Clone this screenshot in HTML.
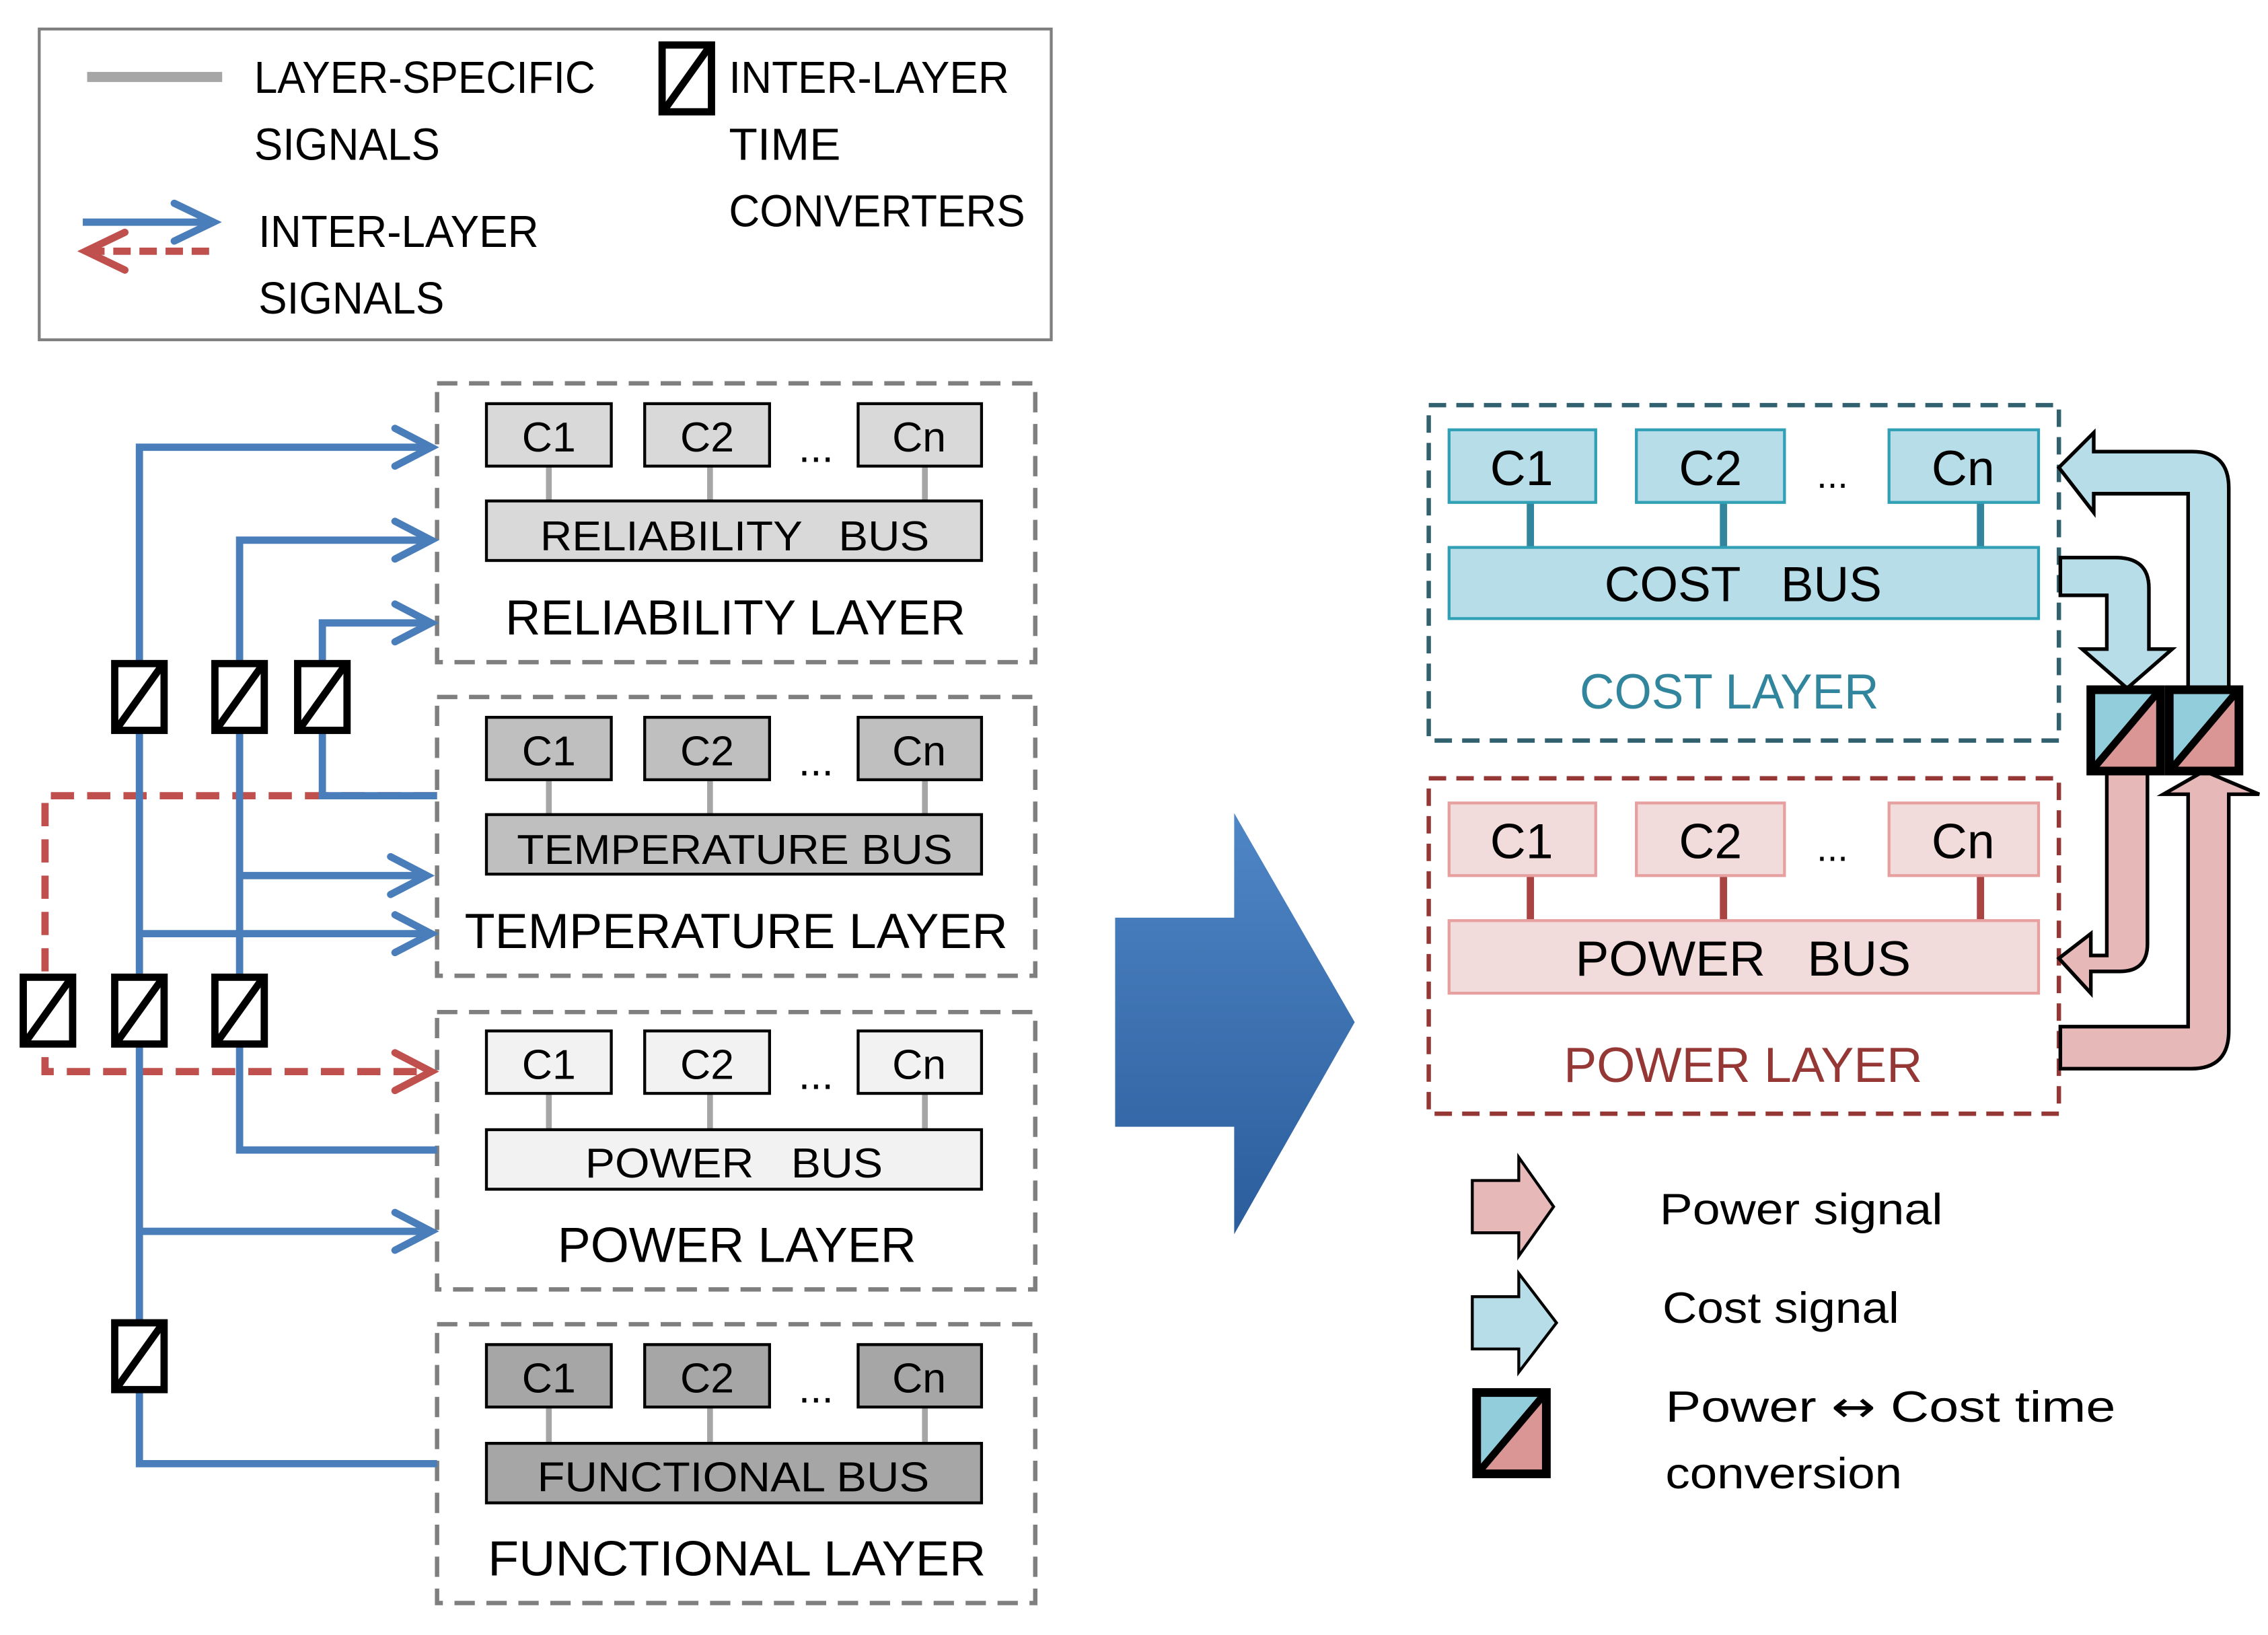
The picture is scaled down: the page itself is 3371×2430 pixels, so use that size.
<!DOCTYPE html>
<html><head><meta charset="utf-8"><style>
html,body{margin:0;padding:0;background:#fff;}
svg{display:block;}
text{font-family:"Liberation Sans",sans-serif;}
</style></head><body>
<svg width="3371" height="2430" viewBox="0 0 1562 1126" xmlns="http://www.w3.org/2000/svg">
<defs>
<linearGradient id="bg" x1="0" y1="0" x2="0" y2="1">
<stop offset="0" stop-color="#4f86c6"/><stop offset="1" stop-color="#2b5d9c"/>
</linearGradient>
<g id="conv"><rect x="0" y="0" width="34" height="46" fill="#fff" stroke="#000" stroke-width="5"/><line x1="2" y1="44" x2="32" y2="2" stroke="#000" stroke-width="5"/></g>
<g id="rconv"><polygon points="0,0 48,0 0,56" fill="#92cddc"/><polygon points="48,0 48,56 0,56" fill="#d99694"/><line x1="2" y1="54" x2="46" y2="2" stroke="#000" stroke-width="5"/><rect x="0" y="0" width="48" height="56" fill="none" stroke="#000" stroke-width="6"/></g>
</defs>

<!-- Legend -->
<rect x="27" y="20" width="697" height="214" fill="#fff" stroke="#7f7f7f" stroke-width="2"/>
<line x1="60" y1="53" x2="153" y2="53" stroke="#a6a6a6" stroke-width="7"/>
<g font-size="31" fill="#000" lengthAdjust="spacingAndGlyphs">
<text x="175" y="64" textLength="235" lengthAdjust="spacingAndGlyphs">LAYER-SPECIFIC</text>
<text x="175" y="110" textLength="128" lengthAdjust="spacingAndGlyphs">SIGNALS</text>
<text x="178" y="170" textLength="193" lengthAdjust="spacingAndGlyphs">INTER-LAYER</text>
<text x="178" y="216" textLength="128" lengthAdjust="spacingAndGlyphs">SIGNALS</text>
<text x="502" y="64" textLength="193" lengthAdjust="spacingAndGlyphs">INTER-LAYER</text>
<text x="502" y="110" textLength="77" lengthAdjust="spacingAndGlyphs">TIME</text>
<text x="502" y="156" textLength="204" lengthAdjust="spacingAndGlyphs">CONVERTERS</text>
</g>
<line x1="57" y1="153" x2="146" y2="153" stroke="#4a7ebb" stroke-width="5"/>
<polyline points="120,140 147,153 120,166" fill="none" stroke="#4a7ebb" stroke-width="5" stroke-linecap="round"/>
<line x1="60" y1="173" x2="150" y2="173" stroke="#c0504d" stroke-width="5" stroke-dasharray="12,6"/>
<polyline points="86,160 59,173 86,186" fill="none" stroke="#c0504d" stroke-width="5" stroke-linecap="round"/>
<use href="#conv" x="456" y="31"/>

<!-- Left layers -->
<g fill="none" stroke="#7f7f7f" stroke-width="3" stroke-dasharray="14,8">
<rect x="301" y="264" width="412" height="192"/>
<rect x="301" y="480" width="412" height="192"/>
<rect x="301" y="697" width="412" height="191"/>
<rect x="301" y="912" width="412" height="192"/>
</g>
<g font-size="29" text-anchor="middle" fill="#000">
<!-- reliability -->
<g stroke="#a6a6a6" stroke-width="4"><line x1="378" y1="321" x2="378" y2="345"/><line x1="489" y1="321" x2="489" y2="345"/><line x1="637" y1="321" x2="637" y2="345"/></g>
<g fill="#d9d9d9" stroke="#000" stroke-width="2"><rect x="335" y="278" width="86" height="43"/><rect x="444" y="278" width="86" height="43"/><rect x="591" y="278" width="85" height="43"/><rect x="335" y="345" width="341" height="41"/></g>
<text x="378" y="311">C1</text><text x="487" y="311">C2</text><text x="633" y="311">Cn</text><text x="562" y="318">...</text>
<text x="372" y="379" text-anchor="start" textLength="268" lengthAdjust="spacingAndGlyphs" xml:space="preserve">RELIABILITY   BUS</text>
<text x="348" y="437" font-size="34" text-anchor="start" textLength="317" lengthAdjust="spacingAndGlyphs">RELIABILITY LAYER</text>
<!-- temperature -->
<g stroke="#a6a6a6" stroke-width="4"><line x1="378" y1="537" x2="378" y2="561"/><line x1="489" y1="537" x2="489" y2="561"/><line x1="637" y1="537" x2="637" y2="561"/></g>
<g fill="#bfbfbf" stroke="#000" stroke-width="2"><rect x="335" y="494" width="86" height="43"/><rect x="444" y="494" width="86" height="43"/><rect x="591" y="494" width="85" height="43"/><rect x="335" y="561" width="341" height="41"/></g>
<text x="378" y="527">C1</text><text x="487" y="527">C2</text><text x="633" y="527">Cn</text><text x="562" y="534">...</text>
<text x="356" y="595" text-anchor="start" textLength="300" lengthAdjust="spacingAndGlyphs">TEMPERATURE BUS</text>
<text x="320" y="653" font-size="34" text-anchor="start" textLength="374" lengthAdjust="spacingAndGlyphs">TEMPERATURE LAYER</text>
<!-- power -->
<g stroke="#a6a6a6" stroke-width="4"><line x1="378" y1="753" x2="378" y2="778"/><line x1="489" y1="753" x2="489" y2="778"/><line x1="637" y1="753" x2="637" y2="778"/></g>
<g fill="#f2f2f2" stroke="#000" stroke-width="2"><rect x="335" y="710" width="86" height="43"/><rect x="444" y="710" width="86" height="43"/><rect x="591" y="710" width="85" height="43"/><rect x="335" y="778" width="341" height="41"/></g>
<text x="378" y="743">C1</text><text x="487" y="743">C2</text><text x="633" y="743">Cn</text><text x="562" y="750">...</text>
<text x="403" y="811" text-anchor="start" textLength="205" lengthAdjust="spacingAndGlyphs" xml:space="preserve">POWER   BUS</text>
<text x="384" y="869" font-size="34" text-anchor="start" textLength="247" lengthAdjust="spacingAndGlyphs">POWER LAYER</text>
<!-- functional -->
<g stroke="#a6a6a6" stroke-width="4"><line x1="378" y1="969" x2="378" y2="994"/><line x1="489" y1="969" x2="489" y2="994"/><line x1="637" y1="969" x2="637" y2="994"/></g>
<g fill="#a6a6a6" stroke="#000" stroke-width="2"><rect x="335" y="926" width="86" height="43"/><rect x="444" y="926" width="86" height="43"/><rect x="591" y="926" width="85" height="43"/><rect x="335" y="994" width="341" height="41"/></g>
<text x="378" y="959">C1</text><text x="487" y="959">C2</text><text x="633" y="959">Cn</text><text x="562" y="966">...</text>
<text x="370" y="1027" text-anchor="start" textLength="270" lengthAdjust="spacingAndGlyphs">FUNCTIONAL BUS</text>
<text x="336" y="1085" font-size="34" text-anchor="start" textLength="343" lengthAdjust="spacingAndGlyphs">FUNCTIONAL LAYER</text>
</g>

<!-- red dashed -->
<polyline points="301,548 31,548 31,738 292,738" fill="none" stroke="#c0504d" stroke-width="5" stroke-dasharray="16,9"/>
<polyline points="272,725 297,738 272,751" fill="none" stroke="#c0504d" stroke-width="5" stroke-linecap="round"/>

<!-- blue lines -->
<g fill="none" stroke="#4a7ebb" stroke-width="5">
<polyline points="296,308 96,308 96,1008 301,1008"/>
<polyline points="296,372 165,372 165,792 301,792"/>
<polyline points="296,429 222,429 222,548 301,548"/>
<line x1="165" y1="603" x2="294" y2="603"/>
<line x1="96" y1="643" x2="296" y2="643"/>
<line x1="96" y1="848" x2="296" y2="848"/>
</g>
<g fill="none" stroke="#4a7ebb" stroke-width="5" stroke-linecap="round">
<polyline points="272,295 297,308 272,321"/>
<polyline points="272,359 297,372 272,385"/>
<polyline points="272,416 297,429 272,442"/>
<polyline points="269,590 294,603 269,616"/>
<polyline points="272,630 297,643 272,656"/>
<polyline points="272,835 297,848 272,861"/>
</g>
<use href="#conv" x="79" y="457"/><use href="#conv" x="148" y="457"/><use href="#conv" x="205" y="457"/>
<use href="#conv" x="16" y="673"/><use href="#conv" x="79" y="673"/><use href="#conv" x="148" y="673"/>
<use href="#conv" x="79" y="911"/>

<!-- big arrow -->
<polygon points="768,632 850,632 850,560 933,704 850,850 850,776 768,776" fill="url(#bg)"/>

<!-- right: cost layer -->
<rect x="984" y="279" width="434" height="231" fill="none" stroke="#31606e" stroke-width="3" stroke-dasharray="12,7"/>
<g stroke="#31859c" stroke-width="5"><line x1="1054" y1="346" x2="1054" y2="377"/><line x1="1187" y1="346" x2="1187" y2="377"/><line x1="1364" y1="346" x2="1364" y2="377"/></g>
<g fill="#b7dde8" stroke="#31a0b5" stroke-width="2"><rect x="998" y="296" width="101" height="50"/><rect x="1127" y="296" width="102" height="50"/><rect x="1301" y="296" width="103" height="50"/><rect x="998" y="377" width="406" height="49"/></g>
<g font-size="34" text-anchor="middle" fill="#000">
<text x="1048" y="334">C1</text><text x="1178" y="334">C2</text><text x="1352" y="334">Cn</text><text x="1262" y="336" font-size="26">...</text>
<text x="1105" y="414" text-anchor="start" textLength="191" lengthAdjust="spacingAndGlyphs" xml:space="preserve">COST   BUS</text>
<text x="1088" y="488" fill="#31859c" text-anchor="start" textLength="206" lengthAdjust="spacingAndGlyphs">COST LAYER</text>
</g>
<!-- power layer -->
<rect x="984" y="536" width="434" height="231" fill="none" stroke="#953735" stroke-width="3" stroke-dasharray="12,7"/>
<g stroke="#a94442" stroke-width="5"><line x1="1054" y1="603" x2="1054" y2="634"/><line x1="1187" y1="603" x2="1187" y2="634"/><line x1="1364" y1="603" x2="1364" y2="634"/></g>
<g fill="#f2dcdb" stroke="#e6a0a0" stroke-width="2"><rect x="998" y="553" width="101" height="50"/><rect x="1127" y="553" width="102" height="50"/><rect x="1301" y="553" width="103" height="50"/><rect x="998" y="634" width="406" height="50"/></g>
<g font-size="34" text-anchor="middle" fill="#000">
<text x="1048" y="591">C1</text><text x="1178" y="591">C2</text><text x="1352" y="591">Cn</text><text x="1262" y="593" font-size="26">...</text>
<text x="1085" y="672" text-anchor="start" textLength="231" lengthAdjust="spacingAndGlyphs" xml:space="preserve">POWER   BUS</text>
<text x="1077" y="745" fill="#953735" text-anchor="start" textLength="247" lengthAdjust="spacingAndGlyphs">POWER LAYER</text>
</g>

<!-- block arrows right -->
<g stroke="#000" stroke-width="2.5" stroke-linejoin="miter">
<path d="M1507,474 L1507,340 L1442,340 L1442,353 L1418,322 L1442,298 L1442,311 L1510,311 Q1535,311 1535,336 L1535,474 Z" fill="#b7dde8"/>
<path d="M1419,384 L1457,384 Q1480,384 1480,405 L1480,447 L1496,447 L1465,474 L1434,447 L1451,447 L1451,410 L1419,410 Z" fill="#b7dde8"/>
<path d="M1451,531 L1451,658 L1440,658 L1440,643 L1418,660 L1440,684 L1440,669 L1460,669 Q1479,669 1479,650 L1479,531 Z" fill="#e6b9b8"/>
<path d="M1419,707 L1507,707 L1507,547 L1490,547 L1518,531 L1556,547 L1535,547 L1535,710 Q1535,736 1509,736 L1419,736 Z" fill="#e6b9b8"/>
</g>
<use href="#rconv" x="1440" y="475"/><use href="#rconv" x="1494" y="475"/>

<!-- bottom legend -->
<path d="M1014,813 L1046,813 L1046,797 L1070,831 L1046,865 L1046,849 L1014,849 Z" fill="#e6b9b8" stroke="#000" stroke-width="2"/>
<path d="M1014,893 L1046,893 L1046,877 L1072,911 L1046,945 L1046,929 L1014,929 Z" fill="#b7dde8" stroke="#000" stroke-width="2"/>
<use href="#rconv" x="1017" y="959"/>
<g font-size="30" fill="#000">
<text x="1143" y="843" textLength="195" lengthAdjust="spacingAndGlyphs">Power signal</text>
<text x="1145" y="911" textLength="163" lengthAdjust="spacingAndGlyphs">Cost signal</text>
<text x="1147" y="979" textLength="310" lengthAdjust="spacingAndGlyphs">Power <tspan font-family="DejaVu Sans">↔</tspan> Cost time</text>
<text x="1147" y="1025" textLength="163" lengthAdjust="spacingAndGlyphs">conversion</text>
</g>
</svg>
</body></html>
